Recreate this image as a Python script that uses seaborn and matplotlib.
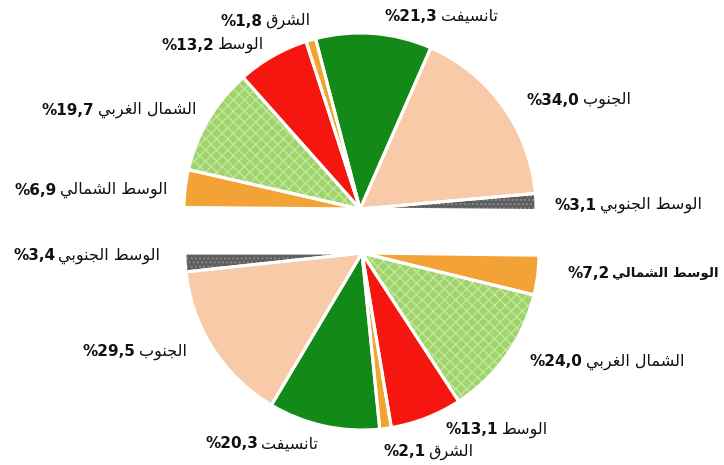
import numpy as np
import matplotlib
matplotlib.use("Agg")
import matplotlib.pyplot as plt
import seaborn as sns

# ---------------- data ----------------
top_regions = ["الوسط الجنوبي", "الجنوب", "تانسيفت", "الشرق", "الوسط", "الشمال الغربي", "الوسط الشمالي"]
top_values = [3.1, 34.0, 21.3, 1.8, 13.2, 19.7, 6.9]

bottom_regions = ["الوسط الجنوبي", "الجنوب", "تانسيفت", "الشرق", "الوسط", "الشمال الغربي", "الوسط الشمالي"]
bottom_values = [3.4, 29.5, 20.3, 2.1, 13.1, 24.0, 7.2]

# ---------------- style ----------------
sns.set_theme(style="white")
plt.rcParams["font.family"] = ["DejaVu Sans"]
plt.rcParams["hatch.linewidth"] = 0.9

slice_colors = ["#5e5e5e", "#f8caa8", "#138a17", "#f2a52e", "#f5170f", "#9fd46b", "#f3a236"]
slice_hatches = ["....", None, None, None, None, "xxx", None]
hatch_colors = ["#8c8c8c", None, None, None, None, "#c6e8a2", None]

# label anchors (pixel coords: x = boundary between number and name, y = centre)
top_label_pos = [(598, 205), (581, 100), (439, 16), (264, 21), (216, 45), (96, 110), (58, 190)]
bottom_label_pos = [(57, 256), (137, 352), (260, 444), (427, 452), (500, 430), (584, 362), (611, 273)]
top_bold_name = [False] * 7
bottom_bold_name = [False, False, False, False, False, False, True]

W, H = 724, 465

# ---------------- Arabic shaping (presentation forms) ----------------
FORMS = {  # isolated, final, initial, medial
    "ا": ("\uFE8D", "\uFE8E", None, None),
    "ب": ("\uFE8F", "\uFE90", "\uFE91", "\uFE92"),
    "ت": ("\uFE95", "\uFE96", "\uFE97", "\uFE98"),
    "ج": ("\uFE9D", "\uFE9E", "\uFE9F", "\uFEA0"),
    "ر": ("\uFEAD", "\uFEAE", None, None),
    "س": ("\uFEB1", "\uFEB2", "\uFEB3", "\uFEB4"),
    "ش": ("\uFEB5", "\uFEB6", "\uFEB7", "\uFEB8"),
    "ط": ("\uFEC1", "\uFEC2", "\uFEC3", "\uFEC4"),
    "غ": ("\uFECD", "\uFECE", "\uFECF", "\uFED0"),
    "ف": ("\uFED1", "\uFED2", "\uFED3", "\uFED4"),
    "ق": ("\uFED5", "\uFED6", "\uFED7", "\uFED8"),
    "ل": ("\uFEDD", "\uFEDE", "\uFEDF", "\uFEE0"),
    "م": ("\uFEE1", "\uFEE2", "\uFEE3", "\uFEE4"),
    "ن": ("\uFEE5", "\uFEE6", "\uFEE7", "\uFEE8"),
    "و": ("\uFEED", "\uFEEE", None, None),
    "ي": ("\uFEF1", "\uFEF2", "\uFEF3", "\uFEF4"),
}


def shape_word(word):
    out = []
    for i, ch in enumerate(word):
        f = FORMS.get(ch)
        if f is None:
            out.append(ch)
            continue
        prev = word[i - 1] if i > 0 else None
        nxt = word[i + 1] if i + 1 < len(word) else None
        jp = prev in FORMS and FORMS[prev][2] is not None
        jn = nxt in FORMS and f[2] is not None
        if jp and jn:
            out.append(f[3])
        elif jp:
            out.append(f[1])
        elif jn:
            out.append(f[2])
        else:
            out.append(f[0])
    return "".join(out)


def visual(text):
    return " ".join(shape_word(w)[::-1] for w in text.split(" ")[::-1])


def fmt(v):
    return "%" + f"{v:.1f}".replace(".", ",")


# ---------------- figure ----------------
fig = plt.figure(figsize=(W / 100, H / 100), dpi=100)
ax = fig.add_axes([0, 0, 1, 1])


def draw_half(values, center, radius, start):
    fr = np.array(values) / 200.0
    c = (center[0], H - center[1])
    common = dict(startangle=start, counterclock=True, normalize=False,
                  center=c, radius=radius, frame=True)
    ax.pie(fr, colors=slice_colors, wedgeprops=dict(linewidth=0), **common)
    wedges, _ = ax.pie(fr, colors=["none"] * len(fr),
                       wedgeprops=dict(linewidth=0, fill=False), **common)
    for w, h, hc in zip(wedges, slice_hatches, hatch_colors):
        if h:
            w.set_hatch(h)
            w.set_edgecolor(hc)
        else:
            w.set_visible(False)
    ax.pie(fr, colors=["none"] * len(fr),
           wedgeprops=dict(edgecolor="white", linewidth=2.2, fill=False), **common)


draw_half(top_values, (360, 209), 176, -0.5)
draw_half(bottom_values, (362, 253), 177, 180)


def put_labels(names, values, positions, bold_names):
    for name, v, (bx, by), b in zip(names, values, positions, bold_names):
        y = H - by
        ax.text(bx - 1.5, y, fmt(v), ha="right", va="center", fontsize=11,
                fontweight="bold", color="#111111")
        ax.text(bx + 1.5, y, visual(name), ha="left", va="center",
                fontsize=9.6 if b else 11.5,
                fontweight="bold" if b else "normal", color="#111111")


put_labels(top_regions, top_values, top_label_pos, top_bold_name)
put_labels(bottom_regions, bottom_values, bottom_label_pos, bottom_bold_name)

ax.set_xlim(0, W)
ax.set_ylim(0, H)
ax.set_aspect("equal")
ax.axis("off")

fig.savefig("out.png", dpi=100, facecolor="white")
